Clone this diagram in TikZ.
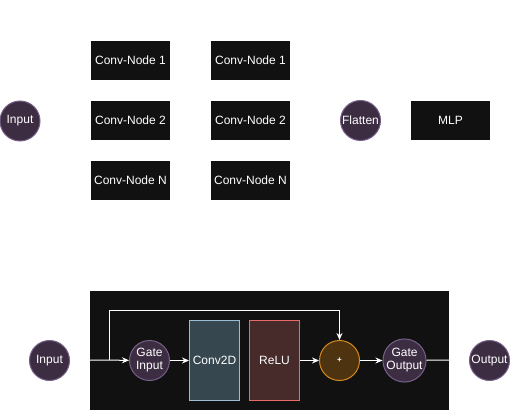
\documentclass[tikz,border=0pt]{standalone}
\usepackage{fontspec}
\setmainfont{Liberation Sans}
\usetikzlibrary{arrows.meta}
\definecolor{bgdark}{HTML}{111111}
\definecolor{circfill}{HTML}{3D2D42}
\definecolor{circline}{HTML}{76608A}
\definecolor{convfill}{HTML}{37474F}
\definecolor{convline}{HTML}{9BBCD4}
\definecolor{relufill}{HTML}{472A2A}
\definecolor{reluline}{HTML}{EA6B66}
\definecolor{addfill}{HTML}{4D3310}
\definecolor{addline}{HTML}{D98A1F}
\tikzset{
  txt/.style={text=white, font=\fontsize{12}{13}\selectfont, align=center, inner sep=0pt},
  circ/.style={txt, circle, fill=circfill, draw=circline, line width=1pt, minimum size=40pt},
  blackbox/.style={txt, fill=bgdark, minimum width=79pt, minimum height=39pt},
  convbox/.style={txt, fill=convfill, draw=convline, line width=1pt, minimum width=50pt, minimum height=80pt},
  relubox/.style={txt, fill=relufill, draw=reluline, line width=1pt, minimum width=50pt, minimum height=80pt},
  addcirc/.style={txt, circle, fill=addfill, draw=addline, line width=1pt, minimum size=40pt, font=\fontsize{8}{9}\selectfont\bfseries},
  conn/.style={draw=white, line width=1pt},
  arr/.style={conn, -{Stealth[length=7pt,width=6pt]}}
}
\begin{document}
\begin{tikzpicture}[x=1pt,y=-1pt]
\useasboundingbox (0,0) rectangle (510,411);
% top part
\node[circ] (in1) at (20,121) {Input};
\node[blackbox] (c11) at (130.5,60.5) {Conv-Node 1};
\node[blackbox] (c12) at (130.5,120.5) {Conv-Node 2};
\node[blackbox] (c1n) at (130.5,180.5) {Conv-Node N};
\node[blackbox] (c21) at (250.5,60.5) {Conv-Node 1};
\node[blackbox] (c22) at (250.5,120.5) {Conv-Node 2};
\node[blackbox] (c2n) at (250.5,180.5) {Conv-Node N};
\node[circ] (flat) at (360.5,120.5) {Flatten};
\node[blackbox] (mlp) at (450.5,120.5) {MLP};
% bottom part
\fill[bgdark] (90,291) rectangle (449,410);
\coordinate (gin) at (90,360);
\coordinate (gout) at (449,360);
\coordinate (br) at (109.5,360);
\coordinate (c1) at (109.5,310.5);
\coordinate (c2) at (339.5,310.5);
\node[circ] (in2) at (49.5,360.5) {Input};
\node[circ] (gi) at (149.5,360.5) {Gate\\Input};
\node[convbox] (conv) at (214.5,360.5) {Conv2D};
\node[relubox] (relu) at (274.5,360.5) {ReLU};
\node[addcirc] (add) at (339.5,360.5) {+};
\node[circ] (go) at (404.5,360.5) {Gate\\Output};
\node[circ] (out) at (489.5,360.5) {Output};
\draw[arr] (gin) -- (gi);
\draw[arr] (br) -- (c1) -- (c2) -- (add);
\draw[arr] (gi) -- (conv);
\draw[arr] (relu) -- (add);
\draw[arr] (add) -- (go);
\draw[conn] (go) -- (gout);
\end{tikzpicture}
\end{document}
